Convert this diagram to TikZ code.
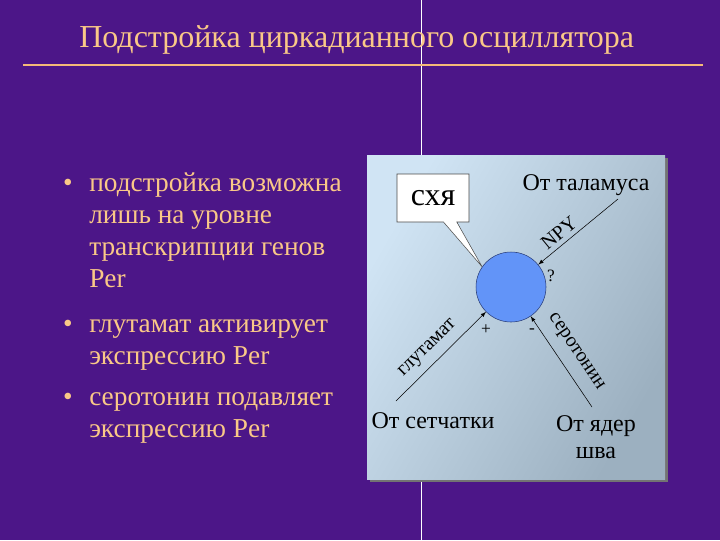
\documentclass[tikz,border=0pt]{standalone}
\usepackage{fontspec}
\setmainfont{Liberation Serif}
\usetikzlibrary{arrows,shapes,shapes.callouts,positioning}
\definecolor{slidebg}{RGB}{76,22,136}
\definecolor{titlecol}{RGB}{250,200,135}
\definecolor{rulecol}{RGB}{245,185,120}
\definecolor{cellcol}{RGB}{98,148,248}
\definecolor{panelhi}{RGB}{208,228,244}
\definecolor{panello}{RGB}{156,176,192}

\begin{document}
\begin{tikzpicture}[x=0.75pt,y=-0.75pt,
    txt/.style={inner sep=0pt,text=titlecol,font=\fontsize{20.5}{24}\selectfont},
    lbl/.style={inner sep=0pt,font=\fontsize{18}{20}\selectfont},
    tag/.style={inner sep=1.5pt,font=\fontsize{15}{17}\selectfont},
    arr/.style={-latex,thin}]
      \fill[slidebg] (0,0) rectangle (720,540);
      \useasboundingbox (0,0) rectangle (720,540);
      \draw[white,line width=0.6pt] (421,0) -- (421,540);

      % title
      \node[anchor=base west,inner sep=0pt,text=titlecol,font=\fontsize{24}{28}\selectfont] (title) at (79,47) {Подстройка циркадианного осциллятора};
      \draw[rulecol,line width=2.2pt] (23,65) -- (703,65);

      % bullets (base = last line)
      \node[txt,anchor=base west,align=left] (item1) at (89,287) {подстройка возможна\\лишь на уровне\\транскрипции генов\\Per};
      \node[txt,anchor=base west,align=left] (item2) at (89,364) {глутамат активирует\\экспрессию Per};
      \node[txt,anchor=base west,align=left] (item3) at (89,437) {серотонин подавляет\\экспрессию Per};
      \node[txt,anchor=base] (dot1) at (68,191) {•};
      \node[txt,anchor=base] (dot2) at (68,332) {•};
      \node[txt,anchor=base] (dot3) at (68,405) {•};

      % panel
      \fill[black!55] (370,158) rectangle (668,482);
      \shade[left color=panelhi,right color=panello,shading angle=60] (367,155) rectangle (665,479);

      \node[circle,draw={rgb,255:red,40;green,60;blue,120},fill=cellcol,minimum size=52.5pt,inner sep=0pt] (scn) at (511,287) {};
      \node[rectangle callout,draw=black!70,fill=white,minimum width=54pt,minimum height=36pt,
        callout pointer width=10pt,callout absolute pointer={(scn.145)},font=\fontsize{24}{26}\selectfont] (sxa) at (433,198) {схя};

      \node[lbl,anchor=base] (thal) at (586,190) {От таламуса};
      \node[lbl,anchor=base] (retina) at (433,428) {От сетчатки};
      \node[lbl,anchor=base,align=center] (raphe) at (596,458) {От ядер\\шва};

      \coordinate (thalend) at (618,199);
      \coordinate (retend) at (396,401);
      \coordinate (rapheend) at (592,407);

      \draw[latex-,thin] (scn) -- node[tag,sloped,above=2pt,pos=0.35] {NPY} (thalend);
      \draw[arr] (retend) -- node[tag,sloped,above=4pt,pos=0.47] {глутамат} (scn);
      \draw[latex-,thin] (scn) -- node[tag,sloped,above=6pt,pos=0.5] {серотонин} (rapheend);

      \node[tag,font=\fontsize{13}{13}\selectfont] (qmark) at (551,276) {?};
      \node[tag,font=\fontsize{13}{13}\selectfont] (plus) at (486,330) {+};
      \node[tag,font=\fontsize{13}{13}\selectfont] (minus) at (532,331) {-};
\end{tikzpicture}
\end{document}
